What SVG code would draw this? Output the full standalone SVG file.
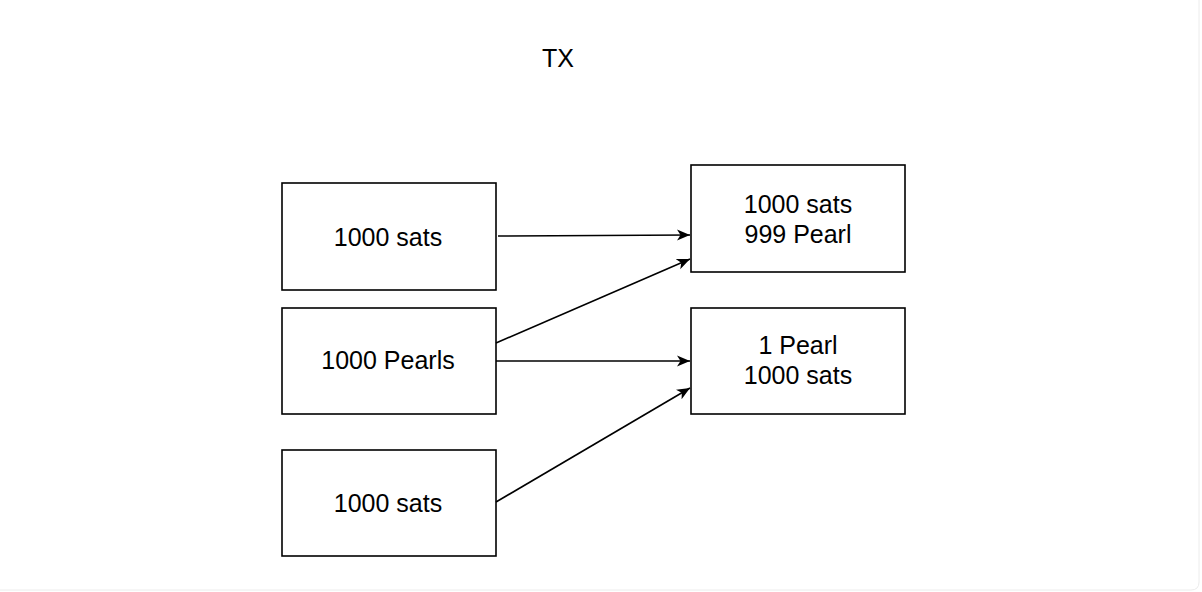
<svg xmlns="http://www.w3.org/2000/svg" width="1202" height="592" viewBox="0 0 1202 592">
<style>
.box{fill:#fff;stroke:#000;stroke-width:1.6}
.t{font-family:"Helvetica Neue","Liberation Sans",Arial,sans-serif;font-size:25px;fill:#000;text-anchor:middle}
.c{fill:none;stroke:#000;stroke-width:1.6}
</style>
<defs>
<marker id="ah" markerWidth="14" markerHeight="12" refX="13" refY="6" orient="auto" markerUnits="userSpaceOnUse">
<path d="M0,0.5 L13,6 L0,11.5 L3.5,6 Z" fill="#000"/>
</marker>
</defs>
<rect x="0" y="0" width="1202" height="592" fill="#fff"/>
<path d="M1199,0 V582 Q1199,590 1191,590 H0" fill="none" stroke="#ececec" stroke-width="1"/>
<text class="t" x="558" y="67">TX</text>
<g id="in1"><rect class="box" x="282" y="183" width="214" height="107"/><text class="t" x="388" y="246">1000 sats</text></g>
<g id="in2"><rect class="box" x="282" y="308" width="214" height="106"/><text class="t" x="388" y="369">1000 Pearls</text></g>
<g id="in3"><rect class="box" x="282" y="450" width="214" height="106"/><text class="t" x="388" y="512">1000 sats</text></g>
<g id="out1"><rect class="box" x="691" y="165" width="214" height="107"/><text class="t" x="798" y="213">1000 sats</text><text class="t" x="798" y="243">999 Pearl</text></g>
<g id="out2"><rect class="box" x="691" y="308" width="214" height="106"/><text class="t" x="798" y="354">1 Pearl</text><text class="t" x="798" y="384">1000 sats</text></g>
<g id="connectors">
<line class="c" x1="498" y1="236" x2="690" y2="235" marker-end="url(#ah)"/>
<line class="c" x1="496" y1="343" x2="690" y2="259" marker-end="url(#ah)"/>
<line class="c" x1="496" y1="361" x2="690" y2="361" marker-end="url(#ah)"/>
<line class="c" x1="496" y1="502" x2="690" y2="388" marker-end="url(#ah)"/>
</g>
</svg>
